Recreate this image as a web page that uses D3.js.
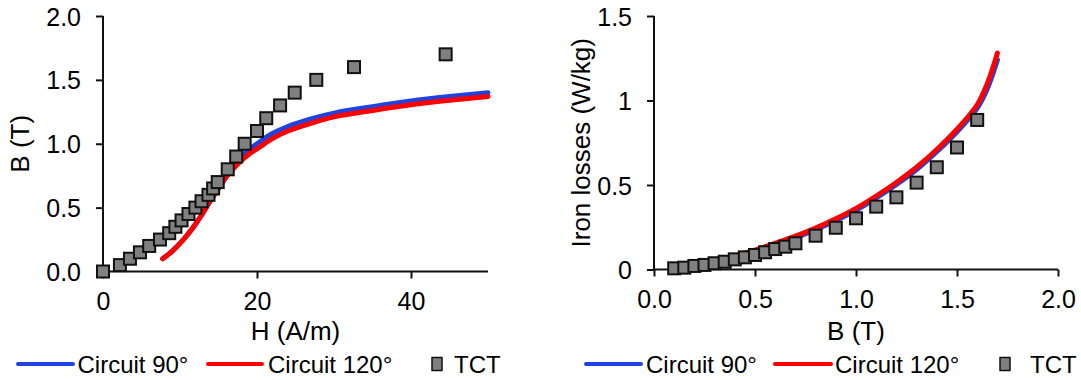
<!DOCTYPE html>
<html>
<head>
<meta charset="utf-8">
<script src="https://cdn.jsdelivr.net/npm/d3@7"></script>
<style>
  html, body { margin: 0; padding: 0; background: #fff; }
  svg { display: block; font-family: "Liberation Sans", Arial, sans-serif; }
</style>
</head>
<body>
<svg id="chart" width="1081" height="380"></svg>
<script>
// ---------- Left chart data: B-H curve ----------
const bhCircuit120H = [7.75, 9, 10, 11, 12, 13, 14, 15, 16, 17, 18, 19, 20, 22, 24, 27, 30, 35, 40, 45, 50];
const bhCircuit120B = [0.10, 0.16, 0.22, 0.29, 0.37, 0.46, 0.56, 0.65, 0.74, 0.81, 0.87, 0.92, 0.96, 1.04, 1.10, 1.16, 1.21, 1.26, 1.305, 1.34, 1.37];
const bhCircuit90H = [7.75, 9, 10, 11, 12, 13, 14, 15, 16, 17, 18, 19, 20, 22, 24, 27, 30, 35, 40, 45, 50];
const bhCircuit90B = [0.10, 0.16, 0.22, 0.29, 0.37, 0.46, 0.56, 0.65, 0.745, 0.83, 0.90, 0.955, 1.0, 1.08, 1.135, 1.195, 1.24, 1.29, 1.335, 1.37, 1.40];
const bhTctH = [0, 2.2, 3.5, 4.8, 6.0, 7.4, 8.6, 9.4, 10.2, 11.1, 12.0, 12.8, 13.7, 14.3, 14.9, 16.2, 17.3, 18.4, 20.0, 21.2, 23.0, 24.9, 27.7, 32.6, 44.5];
const bhTctB = [0, 0.05, 0.1, 0.15, 0.2, 0.25, 0.3, 0.35, 0.4, 0.45, 0.5, 0.55, 0.6, 0.65, 0.7, 0.8, 0.9, 1.0, 1.1, 1.2, 1.3, 1.4, 1.5, 1.6, 1.7];
const bhXTicks = [0, 20, 40];
const bhYTicks = [0, 0.5, 1.0, 1.5, 2.0];

// ---------- Right chart data: iron losses ----------
const lossCircuitB = [0.1, 0.2, 0.3, 0.4, 0.5, 0.6, 0.7, 0.8, 0.9, 1.0, 1.1, 1.2, 1.3, 1.4, 1.5, 1.6, 1.65, 1.7];
const lossCircuit120P = [0.008, 0.026, 0.05, 0.08, 0.115, 0.155, 0.197, 0.245, 0.30, 0.362, 0.435, 0.515, 0.605, 0.71, 0.83, 0.975, 1.10, 1.28];
const lossCircuit90P = [0.008, 0.025, 0.048, 0.077, 0.11, 0.148, 0.189, 0.236, 0.29, 0.35, 0.423, 0.503, 0.592, 0.697, 0.815, 0.955, 1.07, 1.24];
const lossTctB = [0.1, 0.15, 0.2, 0.25, 0.3, 0.35, 0.4, 0.45, 0.5, 0.55, 0.6, 0.65, 0.7, 0.8, 0.9, 1.0, 1.1, 1.2, 1.3, 1.4, 1.5, 1.6];
const lossTctP = [0.007, 0.011, 0.021, 0.027, 0.037, 0.046, 0.060, 0.072, 0.086, 0.102, 0.121, 0.135, 0.155, 0.20, 0.247, 0.303, 0.372, 0.427, 0.514, 0.605, 0.722, 0.885];
const lossXTicks = [0, 0.5, 1.0, 1.5, 2.0];
const lossYTicks = [0, 0.5, 1, 1.5];

const seriesNames = ["Circuit 90°", "Circuit 120°", "TCT"];
const BLUE = "#1f43e0", RED = "#ff0000", GRAY = "#808080";

const svg = d3.select("#chart");

function drawPanel(cfg) {
  const g = svg.append("g");
  const x = d3.scaleLinear().domain(cfg.xDomain).range(cfg.xRange);
  const y = d3.scaleLinear().domain(cfg.yDomain).range(cfg.yRange);

  // axes
  const xAxis = d3.axisBottom(x).tickValues(cfg.xTicks).tickFormat(cfg.xFmt).tickSize(7).tickPadding(14);
  const yAxis = d3.axisLeft(y).tickValues(cfg.yTicks).tickFormat(cfg.yFmt).tickSize(7).tickPadding(15);

  const gx = g.append("g").attr("transform", `translate(0,${cfg.yRange[0]})`).call(xAxis);
  const gy = g.append("g").attr("transform", `translate(${cfg.xRange[0]},0)`).call(yAxis);
  [gx, gy].forEach(a => {
    a.select(".domain").attr("stroke", "#111").attr("stroke-width", 2);
    a.selectAll(".tick line").attr("stroke", "#111").attr("stroke-width", 2);
    a.selectAll(".tick text").attr("fill", "#000").style("font-size", "25px")
      .style("font-family", '"Liberation Sans", Arial, sans-serif');
  });
  gx.select(".domain").attr("d", `M${cfg.xRange[0]},0H${cfg.xRange[1]}`);
  gy.select(".domain").attr("d", `M0,${cfg.yRange[0]}V${cfg.yRange[1]}`);
  gy.selectAll(".tick text").attr("dy", "0.36em");

  // lines
  const line = d3.line().x(d => x(d[0])).y(d => y(d[1])).curve(d3.curveCatmullRom.alpha(0.5));
  const l90 = d3.zip(cfg.c90x, cfg.c90y);
  const l120 = d3.zip(cfg.c120x, cfg.c120y);
  g.append("path").datum(l90).attr("d", line).attr("fill", "none")
    .attr("stroke", BLUE).attr("stroke-width", 5).attr("stroke-linecap", "round");
  g.append("path").datum(l120).attr("d", line).attr("fill", "none")
    .attr("stroke", RED).attr("stroke-width", 5).attr("stroke-linecap", "round");

  // markers
  const pts = d3.zip(cfg.tx, cfg.ty);
  g.selectAll("rect.m").data(pts).join("rect").attr("class", "m")
    .attr("x", d => x(d[0]) - 6).attr("y", d => y(d[1]) - 6)
    .attr("width", 12).attr("height", 12)
    .attr("fill", GRAY).attr("stroke", "#111").attr("stroke-width", 2);

  // axis titles
  g.append("text").attr("x", (cfg.xRange[0] + cfg.xRange[1]) / 2).attr("y", 340)
    .attr("text-anchor", "middle").style("font-size", "26px").text(cfg.xTitle);
  g.append("text").attr("transform", `translate(${cfg.yTitleX},${(cfg.yRange[0] + cfg.yRange[1]) / 2}) rotate(-90)`)
    .attr("text-anchor", "middle").style("font-size", "26px").text(cfg.yTitle);

  // legend
  const lg = g.append("g");
  const ly = 364;
  lg.append("line").attr("x1", cfg.leg[0]).attr("x2", cfg.leg[1]).attr("y1", ly).attr("y2", ly)
    .attr("stroke", BLUE).attr("stroke-width", 4).attr("stroke-linecap", "round");
  lg.append("text").attr("x", cfg.leg[2]).attr("y", ly + 8.6).style("font-size", "24px").text(seriesNames[0]);
  lg.append("line").attr("x1", cfg.leg[3]).attr("x2", cfg.leg[4]).attr("y1", ly).attr("y2", ly)
    .attr("stroke", RED).attr("stroke-width", 4).attr("stroke-linecap", "round");
  lg.append("text").attr("x", cfg.leg[5]).attr("y", ly + 8.6).style("font-size", "24px").text(seriesNames[1]);
  lg.append("rect").attr("x", cfg.leg[6]).attr("y", ly - 6.5).attr("width", 10).attr("height", 13)
    .attr("fill", GRAY).attr("stroke", "#111").attr("stroke-width", 1.5);
  lg.append("text").attr("x", cfg.leg[7]).attr("y", ly + 8.6).style("font-size", "24px").text(seriesNames[2]);
}

drawPanel({
  xDomain: [0, 50], xRange: [103, 488],
  yDomain: [0, 2], yRange: [271.5, 16],
  xTicks: bhXTicks, yTicks: bhYTicks,
  xFmt: d3.format("d"), yFmt: d3.format(".1f"),
  c90x: bhCircuit90H, c90y: bhCircuit90B,
  c120x: bhCircuit120H, c120y: bhCircuit120B,
  tx: bhTctH, ty: bhTctB,
  xTitle: "H (A/m)", yTitle: "B (T)", yTitleX: 29,
  leg: [18, 73, 77.5, 208, 262, 268, 432, 454]
});

drawPanel({
  xDomain: [0, 2], xRange: [654, 1058],
  yDomain: [0, 1.5], yRange: [269.5, 16],
  xTicks: lossXTicks, yTicks: lossYTicks,
  xFmt: d3.format(".1f"), yFmt: d => String(d),
  c90x: lossCircuitB, c90y: lossCircuit90P,
  c120x: lossCircuitB, c120y: lossCircuit120P,
  tx: lossTctB, ty: lossTctP,
  xTitle: "B (T)", yTitle: "Iron losses (W/kg)", yTitleX: 590,
  leg: [586, 641, 646, 775, 831, 835, 1000, 1030]
});
</script>
</body>
</html>
